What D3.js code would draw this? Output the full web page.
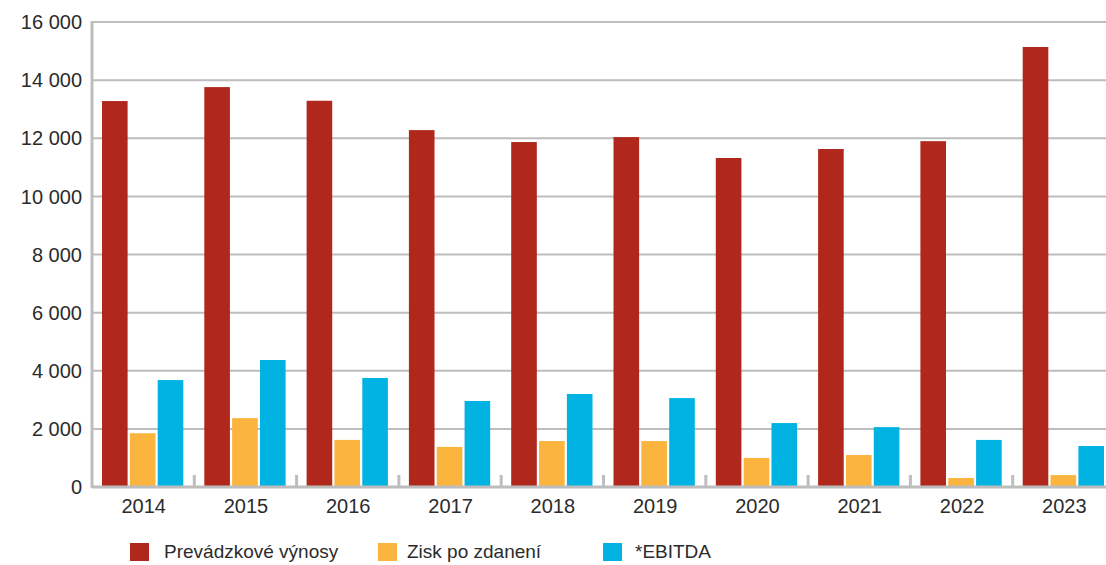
<!DOCTYPE html>
<html>
<head>
<meta charset="utf-8">
<script src="https://cdn.jsdelivr.net/npm/d3@7"></script>
<style>
  html, body { margin: 0; padding: 0; background: #fff; }
  svg { display: block; font-family: "Liberation Sans", Arial, sans-serif; }
</style>
</head>
<body>
<svg id="chart" width="1106" height="565"></svg>
<script>
// Years on the category axis
const years = ["2014", "2015", "2016", "2017", "2018", "2019", "2020", "2021", "2022", "2023"];

// Series values (thousand EUR)
const prevadzkoveVynosy = [13280, 13760, 13290, 12280, 11870, 12040, 11320, 11630, 11900, 15140];
const ziskPoZdaneni     = [1850, 2370, 1620, 1380, 1580, 1580, 1000, 1100, 310, 410];
const ebitda            = [3680, 4370, 3750, 2960, 3200, 3060, 2200, 2060, 1620, 1410];

const seriesNames = ["Prevádzkové výnosy", "Zisk po zdanení", "*EBITDA"];
const seriesColors = ["#b0281c", "#fbb43d", "#00b3e2"];
const yTicks = [0, 2000, 4000, 6000, 8000, 10000, 12000, 14000, 16000];

const seriesValues = [prevadzkoveVynosy, ziskPoZdaneni, ebitda];

const svg = d3.select("#chart");
const plotLeft = 92, plotRight = 1115, plotTop = 22, plotBottom = 487;

const x = d3.scaleBand().domain(years).range([plotLeft, plotRight]).paddingInner(0).paddingOuter(0);
const x1 = d3.scaleBand().domain(d3.range(3)).range([10, x.bandwidth() - 11]).paddingInner(0.08);
const y = d3.scaleLinear().domain([0, 16000]).range([plotBottom, plotTop]);

const fmt = v => d3.format(",")(v).replace(/,/g, " ");

// Horizontal gridlines
svg.append("g")
  .selectAll("line")
  .data(yTicks.filter(t => t > 0))
  .join("line")
  .attr("x1", plotLeft).attr("x2", plotRight)
  .attr("y1", d => y(d)).attr("y2", d => y(d))
  .attr("stroke", "#bdbdbd").attr("stroke-width", 2);

// Y-axis labels
svg.append("g")
  .selectAll("text")
  .data(yTicks)
  .join("text")
  .attr("x", plotLeft - 10)
  .attr("y", d => y(d))
  .attr("dy", "0.36em")
  .attr("text-anchor", "end")
  .attr("font-size", 20)
  .attr("fill", "#2b2b2b")
  .text(fmt);

// Bars
const groups = svg.append("g")
  .selectAll("g")
  .data(years)
  .join("g")
  .attr("transform", d => `translate(${x(d)},0)`);

groups.selectAll("rect")
  .data((d, i) => seriesValues.map((s, k) => ({ k, v: s[i] })))
  .join("rect")
  .attr("x", d => x1(d.k))
  .attr("width", x1.bandwidth())
  .attr("y", d => y(d.v))
  .attr("height", d => y(0) - y(d.v))
  .attr("fill", d => seriesColors[d.k]);

// Y axis line
svg.append("line")
  .attr("x1", plotLeft).attr("x2", plotLeft)
  .attr("y1", plotTop - 1).attr("y2", plotBottom + 1)
  .attr("stroke", "#bdbdbd").attr("stroke-width", 3);

// X axis baseline and inner tick marks between categories
svg.append("line")
  .attr("x1", plotLeft).attr("x2", plotRight)
  .attr("y1", plotBottom).attr("y2", plotBottom)
  .attr("stroke", "#bdbdbd").attr("stroke-width", 3);

svg.append("g")
  .selectAll("line")
  .data(years.slice(1))
  .join("line")
  .attr("x1", d => x(d)).attr("x2", d => x(d))
  .attr("y1", plotBottom - 12).attr("y2", plotBottom)
  .attr("stroke", "#bdbdbd").attr("stroke-width", 3);

// X-axis labels
svg.append("g")
  .selectAll("text")
  .data(years)
  .join("text")
  .attr("x", d => x(d) + 10 + (x.bandwidth() - 21) / 2 + 1)
  .attr("y", 513)
  .attr("text-anchor", "middle")
  .attr("font-size", 20)
  .attr("fill", "#2b2b2b")
  .text(d => d);

// Legend
const legendSwatchX = [130, 378, 603];
const legendTextX = [164, 407, 635];
const legend = svg.append("g")
  .selectAll("g")
  .data(seriesNames)
  .join("g");

legend.append("rect")
  .attr("x", (d, i) => legendSwatchX[i])
  .attr("y", 543)
  .attr("width", 19).attr("height", 18)
  .attr("fill", (d, i) => seriesColors[i]);

legend.append("text")
  .attr("x", (d, i) => legendTextX[i])
  .attr("y", 558)
  .attr("font-size", 19)
  .attr("fill", "#2b2b2b")
  .text(d => d);
</script>
</body>
</html>
